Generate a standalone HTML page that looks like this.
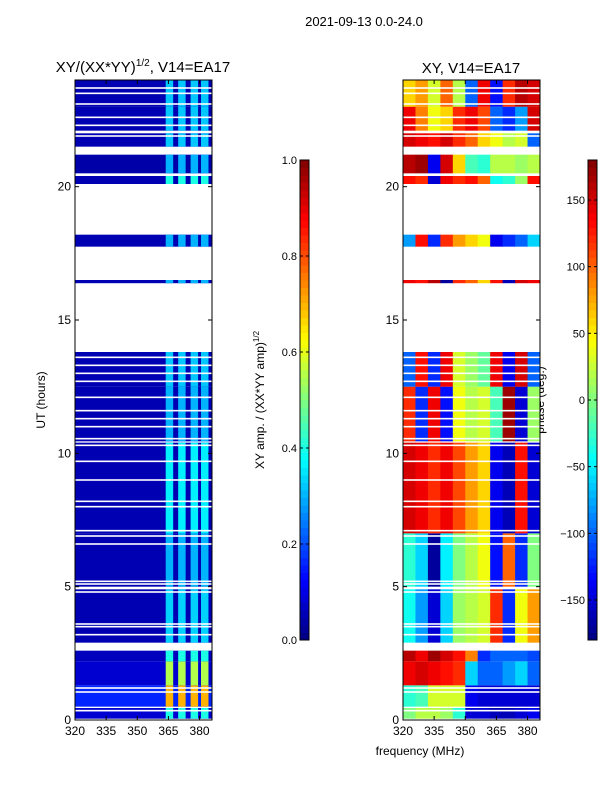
<!DOCTYPE html>
<html><head><meta charset="utf-8"><style>
body{margin:0;background:#fff;}
svg{display:block;font-family:"Liberation Sans",sans-serif;}
</style></head><body>
<svg id="fig" width="600" height="800" xmlns="http://www.w3.org/2000/svg">
<text x="364" y="26" font-size="13" text-anchor="middle">2021-09-13 0.0-24.0</text>
<text x="143" y="72" font-size="15" text-anchor="middle">XY/(XX*YY)<tspan font-size="10" dy="-6">1/2</tspan><tspan dy="6">, V14=EA17</tspan></text>
<text x="471" y="73" font-size="15" text-anchor="middle">XY, V14=EA17</text>
<text x="45" y="400" font-size="12" text-anchor="middle" transform="rotate(-90 45 400)">UT (hours)</text>
<text x="420" y="755" font-size="12" text-anchor="middle">frequency (MHz)</text>
<text x="264" y="400" font-size="12" text-anchor="middle" transform="rotate(-90 264 400)">XY amp. / (XX*YY amp)<tspan font-size="8" dy="-5">1/2</tspan></text>
<text x="544" y="400" font-size="12" text-anchor="middle" transform="rotate(-90 544 400)">phase (deg.)</text>
<g id="layer"></g>
</svg>
<script>
// ---- data ----
const bandStart=[0.05,0.5,1.3,2.2,2.9,5.0,7.0,10.45,12.5,16.38,17.75,20.1,20.5,21.5,22.1,23.0];
const bandEnd  =[0.45,1.3,2.2,2.6,4.9,7.0,10.4,12.5,13.8,16.5,18.2,20.4,21.2,22.0,23.0,24.0];
const ampBg    =[0.08,0.16,0.08,0.06,0.05,0.05,0.05,0.05,0.05,0.05,0.05,0.05,0.04,0.05,0.05,0.05];
const stripeLvl=[0.4,0.7,0.55,0.4,0.33,0.3,0.36,0.3,0.32,0.3,0.3,0.4,0.3,0.32,0.32,0.32];
const stripeCh =[365.5,371.5,377.5,382.5];
const phaseBins=[320,326,332,338,344,350,356,362,368,374,380];
const phase=[
[0,20,20,10,-30,-150,-150,-160,-160,-150,-140],
[-30,-20,30,30,30,-140,-150,-150,-150,-150,-150],
[140,150,140,130,120,-60,-100,-100,-80,-60,-100],
[160,140,170,150,130,90,-120,-100,-100,-100,-110],
[-40,-80,-150,-60,10,20,30,120,-120,40,80],
[-30,-60,-170,-50,0,20,40,-130,100,-120,0],
[150,140,120,140,110,80,60,-140,-160,130,-150],
[120,-120,140,-130,40,20,30,-20,170,-150,10],
[-100,130,-120,140,30,10,-10,140,-140,150,-100],
[140,130,160,-170,120,100,60,130,-160,150,140],
[-80,130,-120,120,80,60,40,-140,-120,-100,-60],
[130,120,-150,140,120,130,100,-40,-30,10,130],
[160,170,-140,150,60,-20,-30,20,20,10,20],
[150,140,130,150,120,100,60,40,20,30,-100],
[140,90,40,60,120,140,110,-100,-120,-80,150],
[60,80,30,100,20,-100,140,-130,120,160,150]];
const flagLines=[0.35,1.05,1.2,3.2,3.5,3.6,4.8,5.1,5.2,6.6,6.9,7.1,8.0,8.2,9.0,9.7,10.3,10.55,11.0,11.3,11.6,12.1,12.7,13.0,13.3,13.6,21.9,22.3,22.6,23.1,23.5,23.7];
const yTicks=[0,5,10,15,20];
const xTicks=[320,335,350,365,380];
const ampTicks=[0.0,0.2,0.4,0.6,0.8,1.0];
const phTicks=[-150,-100,-50,0,50,100,150];

// ---- helpers ----
const NS="http://www.w3.org/2000/svg",L=document.getElementById('layer');
function jet(v){v=Math.max(0,Math.min(1,v));
 const c=x=>Math.round(255*Math.max(0,Math.min(1,x)));
 return `rgb(${c(1.5-Math.abs(4*v-3))},${c(1.5-Math.abs(4*v-2))},${c(1.5-Math.abs(4*v-1))})`;}
function mk(t,a,p){const e=document.createElementNS(NS,t);for(const k in a)e.setAttribute(k,a[k]);(p||L).appendChild(e);return e;}
const Y0=720,Y1=80,CH0=320,CH1=386;
const yS=h=>Y0-(h/24)*(Y0-Y1);
function panel(x0,x1,name){
 const xS=c=>x0+(c-CH0)/(CH1-CH0)*(x1-x0);
 return {x0,x1,xS,name};}
const P1=panel(75,212,'amp'),P2=panel(403,540,'phase');

// amp panel
bandStart.forEach((s,i)=>{
 const r=mk('rect',{x:P1.x0,y:yS(bandEnd[i]),width:P1.x1-P1.x0,height:yS(s)-yS(bandEnd[i]),fill:jet(ampBg[i])});
 
 
 stripeCh.forEach(c=>{
  const st=mk('rect',{x:P1.xS(c-1.8),y:yS(bandEnd[i]),width:P1.xS(c+1.8)-P1.xS(c-1.8),height:yS(s)-yS(bandEnd[i]),fill:jet(stripeLvl[i])});
  
  
 });
});
// phase panel
bandStart.forEach((s,i)=>{
 phaseBins.forEach((c,j)=>{
  const c2=j+1<phaseBins.length?phaseBins[j+1]:CH1;
  const r=mk('rect',{x:P2.xS(c),y:yS(bandEnd[i]),width:P2.xS(c2)-P2.xS(c)+0.5,height:yS(s)-yS(bandEnd[i]),fill:jet((phase[i][j]+180)/360)});
  
  
 });
});
// flagged lines
[P1,P2].forEach(P=>flagLines.forEach(h=>{
 const l=mk('rect',{x:P.x0,y:yS(h)-0.8,width:P.x1-P.x0,height:1.6,fill:'#fff'});
 
 
}));
// axes
[P1,P2].forEach(P=>{
 const f=mk('rect',{x:P.x0,y:Y1,width:P.x1-P.x0,height:Y0-Y1,fill:'none',stroke:'#000','stroke-width':1});
 
 
 yTicks.forEach(t=>{
  const y=yS(t);
  mk('line',{x1:P.x0,x2:P.x0+4,y1:y,y2:y,stroke:'#000'});
  mk('line',{x1:P.x1,x2:P.x1-4,y1:y,y2:y,stroke:'#000'});
  const tx=mk('text',{x:P.x0-4,y:y+4,'font-size':12,'text-anchor':'end'});tx.textContent=t;
  
  
 });
 xTicks.forEach(t=>{
  const x=P.xS(t);
  mk('line',{x1:x,x2:x,y1:Y0,y2:Y0-4,stroke:'#000'});
  mk('line',{x1:x,x2:x,y1:Y1,y2:Y1+4,stroke:'#000'});
  const tx=mk('text',{x:x,y:Y0+15,'font-size':12,'text-anchor':'middle'});tx.textContent=t;
  
  
 });
});
// colorbars
function cbar(x,w,lo,hi,ticks,name,fmt){
 const CB0=640,CB1=160,n=64;
 for(let k=0;k<n;k++){
  mk('rect',{x:x,y:CB0-(k+1)*(CB0-CB1)/n,width:w,height:(CB0-CB1)/n+0.5,fill:jet((k+0.5)/n)});
 }
 const f=mk('rect',{x:x,y:CB1,width:w,height:CB0-CB1,fill:'none',stroke:'#000'});
 
 
 ticks.forEach(t=>{
  const y=CB0-(t-lo)/(hi-lo)*(CB0-CB1);
  mk('line',{x1:x,x2:x+3,y1:y,y2:y,stroke:'#000'});
  mk('line',{x1:x+w,x2:x+w-3,y1:y,y2:y,stroke:'#000'});
  const tx=mk('text',{x:x-3,y:y+4,'font-size':11,'text-anchor':'end'});tx.textContent=fmt(t);
  
  
 });
}
cbar(300,9,0,1,ampTicks,'amp-colorbar',t=>t.toFixed(1));
cbar(588,9,-180,180,phTicks,'phase-colorbar',t=>t<0?'\u2212'+(-t):''+t);
</script>
</body></html>
